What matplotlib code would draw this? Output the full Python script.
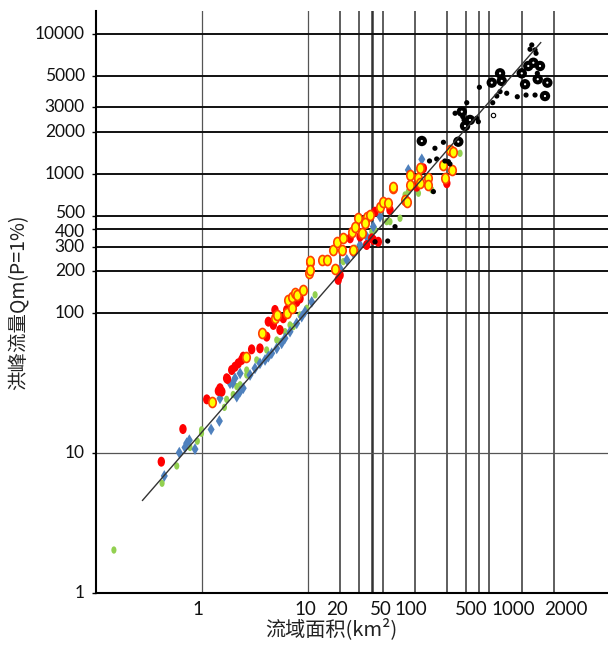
import matplotlib
matplotlib.use("Agg")
import matplotlib.pyplot as plt
from matplotlib.markers import MarkerStyle
from matplotlib.transforms import Affine2D, ScaledTranslation

# ---------------- data (area km², peak flow Qm) ----------------
red_area = [0.42, 0.67, 1.12, 1.44, 1.55, 1.75, 1.49, 1.72, 1.92, 2.06, 2.21, 2.38, 2.46,
            2.95, 3.53, 4.08, 4.23, 4.88, 5.44, 4.71, 5.84, 6.29, 7.80, 7.25, 8.38,
            24.7, 30.6, 35.3, 39.4, 40.8, 45.4, 19.1, 19.9, 58.4, 42.3, 120, 199, 104]
red_q = [8.7, 14.9, 24.3, 27.9, 27.6, 34.0, 29.2, 34.4, 39.4, 41.6, 44.0, 46.5, 49.1,
         55.4, 56.3, 68.3, 87.4, 106, 76.2, 82.8, 92.4, 106, 121, 112, 128,
         345, 355, 309, 345, 336, 326, 174, 188, 550, 535, 1094, 855, 807]

yellow_area = [1.25, 2.61, 3.71, 4.88, 5.07, 6.37, 6.51, 7.00, 7.52, 7.80, 7.00, 9.00,
               10.2, 10.4, 10.5, 10.4, 13.4, 14.9, 17.2, 17.8, 20.6, 18.5, 21.3, 26.5,
               25.6, 29.5, 27.5, 31.7, 35.3, 34.1, 38.0, 47.1, 50.6, 56.3, 62.8, 80.8,
               83.8, 213, 226, 182, 221, 112, 89.9, 108, 134, 112, 134, 191, 62.8, 89.9]
yellow_q = [23.4, 49.1, 72.9, 92.4, 97.5, 100, 125, 132, 140, 136, 109, 147,
            194, 235, 239, 205, 242, 242, 285, 207, 285, 326, 345, 285,
            385, 480, 418, 375, 493, 442, 507, 581, 631, 615, 787, 649,
            631, 1479, 1438, 1156, 1064, 1094, 979, 928, 928, 855, 832, 928, 807, 832]

blue_area = [0.448, 0.619, 0.700, 0.726, 0.769, 0.869, 1.23, 1.47, 1.49, 1.96, 2.14, 2.30,
             2.46, 1.85, 2.06, 2.30, 2.85, 3.17, 3.53, 3.94, 4.23, 4.55, 5.07, 5.64, 6.06,
             6.75, 7.80, 8.69, 9.33, 10.8, 19.9, 23.0, 26.5, 30.6, 35.3, 40.8, 47.1,
             116, 86.7, 310]
blue_q = [6.88, 10.1, 11.0, 11.8, 12.4, 10.7, 14.8, 17.0, 24.7, 31.7, 25.4, 27.6,
          29.2, 31.7, 34.4, 37.3, 36.3, 40.5, 44.0, 46.5, 49.1, 51.9, 56.3, 61.2, 66.5,
          74.1, 85.1, 94.9, 103, 121, 210, 242, 270, 309, 355, 418, 493,
          1268, 1064, 2297]

green_area = [0.151, 0.427, 0.586, 0.780, 0.914, 1.00, 1.00, 1.64, 1.72, 2.65, 3.29, 4.08,
              5.07, 5.44, 6.06, 6.75, 7.25, 8.38, 9.68, 11.6, 21.3, 27.5, 39.4, 42.3,
              54.4, 58.4, 72.5, 80.8, 86.7, 265, 144, 108, 1.98, 2.14, 2.30, 2.65]
green_q = [2.03, 6.10, 8.11, 11.0, 12.2, 13.9, 14.7, 21.3, 24.3, 39.4, 46.5, 54.8,
           64.6, 62.8, 74.1, 82.8, 80.5, 97.5, 109, 136, 235, 293, 385, 396,
           454, 454, 480, 705, 745, 1400, 766, 725, 26.3, 30.0, 30.9, 36.3]

black_big_area = [628, 651, 525, 1003, 1155, 1288, 1487, 1416, 1077, 1741, 1656,
                  275, 328, 116, 255, 295]
black_big_q = [5230, 4613, 4484, 5230, 5902, 6225, 5902, 4745, 4367, 4484, 3597,
               2780, 2425, 1715, 1695, 2196]

black_small_area = [1245, 1199, 1336, 1365, 402, 628, 585, 725, 911, 1100, 1336, 536,
                    306, 238, 379, 393, 281, 289, 185, 154, 137, 160, 191, 206, 213,
                    149, 42.3, 55.6, 65.1, 1404]
black_small_q = [8345, 7774, 7687, 7273, 4155, 3867, 3597, 3765, 3556, 3656, 3656, 3223,
                 3223, 2708, 2493, 2357, 2560, 2425, 1679, 1521, 1234, 1275, 1234, 1220, 1175,
                 745, 326, 330, 418, 5230]

black_hollow_area = [543]
black_hollow_q = [2633]

fit_area = [0.28, 1510]
fit_q = [4.6, 8670]

x_ticks = [1, 10, 20, 50, 100, 500, 1000, 2000]
x_grid = [1, 10, 20, 30, 40, 50, 100, 200, 300, 400, 500, 1000, 2000]
y_ticks = [1, 10, 100, 200, 300, 400, 500, 1000, 2000, 3000, 5000, 10000]
y_grid_major = [100, 200, 300, 400, 500, 1000, 2000, 3000, 5000, 10000]
y_grid_minor = [10]

xlabel = "流域面积(km²)"
ylabel = "洪峰流量Qm(P=1%)"

# ---------------- figure ----------------
fig = plt.figure(figsize=(6.08, 6.46), dpi=100)
ax = fig.add_axes([96 / 608, 53 / 646, 512 / 608, 582 / 646])
ax.set_xscale("log")
ax.set_yscale("log")
ax.set_xlim(0.1026, 6450)
ax.set_ylim(1, 14600)

for v in x_grid:
    lw = 1.8 if v == 40 else (0.9 if v in (1, 10) else 1.1)
    col = "#555555" if v in (1, 10) else "#333333"
    ax.axvline(v, color=col, lw=lw, zorder=1)
for v in y_grid_major:
    ax.axhline(v, color="#111111", lw=1.4, zorder=1)
for v in y_grid_minor:
    ax.axhline(v, color="#555555", lw=0.9, zorder=1)

ell = MarkerStyle("o", transform=Affine2D().scale(0.74, 1.0))
ell_small = MarkerStyle("o", transform=Affine2D().scale(0.7, 1.0))

ax.scatter(green_area, green_q, marker=ell_small, s=28, color="#92d050",
           edgecolors="none", zorder=3)
ax.scatter(blue_area, blue_q, marker="d", s=36, color="#4f81bd",
           edgecolors="none", zorder=3)
ax.scatter(red_area, red_q, marker=ell, s=52, color="#ff0000",
           edgecolors="none", zorder=4)
ax.scatter(yellow_area, yellow_q, marker=ell, s=52, color="#ffff00",
           edgecolors="#ff4000", linewidths=1.2, zorder=5)
ax.scatter(black_small_area, black_small_q, marker="o", s=14, color="black",
           edgecolors="none", zorder=5)
ax.scatter(black_big_area, black_big_q, marker="o", s=56, color="black",
           edgecolors="none", zorder=5)
ax.scatter(black_big_area, black_big_q, marker="o", s=2.5, color="white",
           edgecolors="none", zorder=6)
ax.scatter(black_hollow_area, black_hollow_q, marker="o", s=10, color="white",
           edgecolors="black", linewidths=0.8, zorder=6)

ax.plot(fit_area, fit_q, color="#333333", lw=1.0, zorder=7)

for s in ("top", "right"):
    ax.spines[s].set_visible(False)
for s in ("left", "bottom"):
    ax.spines[s].set_color("black")
    ax.spines[s].set_linewidth(1.5)

ax.set_xticks(x_ticks)
ax.set_xticklabels([str(v) for v in x_ticks])
ax.set_yticks(y_ticks)
ax.set_yticklabels([str(v) for v in y_ticks])
ax.minorticks_off()
ax.tick_params(axis="y", length=3, width=1, pad=5, labelsize=12.5)
ax.tick_params(axis="x", length=0, pad=6, labelsize=13.5)
for lab in ax.get_xticklabels() + ax.get_yticklabels():
    lab.set_family(["Lato", "DejaVu Sans"])
    lab.set_color("#111111")

# horizontal nudges (pixels) of the x tick labels, as placed in the reference
x_label_shift = [-4, -3, -3, -2, -4, -18, -8, 12]
for lab, dx in zip(ax.get_xticklabels(), x_label_shift):
    lab.set_transform(lab.get_transform() + ScaledTranslation(dx / 100, 0, fig.dpi_scale_trans))
# vertical nudges (pixels, up positive) of the crowded y tick labels
y_label_shift = [0, 0, 0, 0, 0, -3, 3, 0, 0, 0, 0, 0]
for lab, dy in zip(ax.get_yticklabels(), y_label_shift):
    lab.set_verticalalignment("center")
    lab.set_transform(lab.get_transform() + ScaledTranslation(0, dy / 100, fig.dpi_scale_trans))

ax.set_xlabel(xlabel, family=["Noto Sans CJK SC", "DejaVu Sans"], fontsize=14.5,
              color="#222222", labelpad=2)
ax.xaxis.set_label_coords(0.46, -0.043)
ax.set_ylabel(ylabel, family=["Noto Sans CJK SC", "DejaVu Sans"], fontsize=14,
              color="#222222", labelpad=4)

fig.savefig("out.png", dpi=100)
